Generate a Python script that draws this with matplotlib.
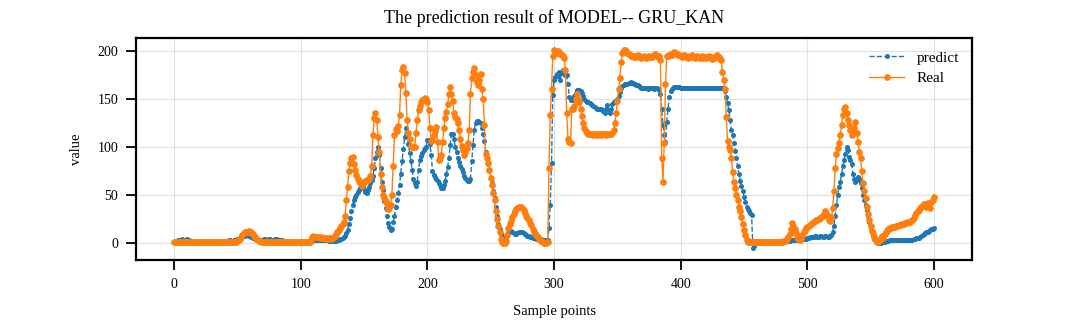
import numpy as np
import matplotlib
matplotlib.use('Agg')
import matplotlib.pyplot as plt

# Série real (Real) e previsão do modelo (predict), uma amostra por ponto
real = [
    1, 1, 1, 1, 1, 1, 1, 1, 1, 1,
    1, 1, 1, 1, 1, 1, 1, 1, 1, 1,
    1, 1, 1, 1, 1, 1, 1, 1, 1, 1,
    1, 1, 1, 1, 1, 1, 1, 1, 1, 1,
    1, 1, 1, 1, 1, 1, 1, 1, 1, 1,
    2, 3, 4, 6, 8, 10, 11, 12, 12, 13,
    12, 11, 9, 7, 6, 4, 3, 2, 2, 1,
    1, 1, 1, 1, 1, 1, 1, 1, 1, 1,
    1, 1, 1, 1, 1, 1, 1, 1, 1, 1,
    1, 1, 1, 1, 1, 1, 1, 1, 1, 1,
    1, 1, 1, 1, 1, 1, 1, 1, 3, 6,
    7, 6, 6, 6, 6, 5, 6, 5, 5, 5,
    5, 4, 5, 5, 4, 5, 6, 7, 9, 11,
    14, 16, 18, 20, 22, 28, 45, 58, 75, 83,
    88, 90, 82, 76, 71, 67, 65, 62, 59, 62,
    64, 65, 66, 66, 67, 70, 80, 112, 130, 135,
    128, 110, 95, 72, 58, 50, 47, 44, 41, 35,
    36, 40, 50, 80, 112, 119, 117, 122, 133, 165,
    180, 183, 177, 156, 128, 115, 108, 101, 100, 100,
    100, 115, 128, 138, 143, 147, 149, 150, 151, 150,
    147, 138, 120, 106, 107, 112, 117, 121, 105, 86,
    88, 92, 105, 120, 130, 136, 145, 155, 162, 155,
    148, 135, 131, 129, 125, 118, 108, 101, 97, 92,
    95, 99, 104, 118, 155, 172, 178, 182, 175, 168,
    164, 170, 176, 160, 150, 123, 93, 88, 83, 76,
    68, 60, 52, 45, 33, 25, 18, 11, 4, 1,
    0, 0, 2, 8, 16, 20, 23, 27, 30, 33,
    35, 36, 37, 38, 38, 36, 34, 31, 28, 26,
    24, 21, 19, 15, 12, 10, 8, 6, 4, 3,
    2, 1, 0, 0, 0, 1, 78, 133, 160, 195,
    201, 200, 198, 200, 199, 197, 196, 195, 193, 180,
    135, 108, 105, 104, 140, 140, 143, 150, 155, 150,
    147, 140, 132, 125, 120, 117, 115, 114, 113, 113,
    113, 112, 113, 113, 112, 113, 113, 112, 113, 113,
    113, 112, 113, 113, 114, 114, 115, 118, 125, 135,
    148, 160, 172, 188, 198, 201, 201, 200, 198, 197,
    196, 195, 195, 194, 195, 194, 196, 195, 194, 193,
    194, 195, 194, 193, 194, 195, 194, 194, 195, 196,
    197, 195, 194, 195, 190, 88, 64, 104, 166, 195,
    195, 196, 197, 196, 197, 199, 198, 197, 196, 196,
    195, 194, 195, 196, 194, 195, 193, 194, 195, 196,
    194, 193, 194, 195, 194, 193, 194, 195, 193, 194,
    193, 194, 195, 194, 193, 192, 193, 194, 195, 196,
    194, 192, 190, 178, 170, 160, 131, 106, 100, 97,
    88, 74, 64, 57, 50, 45, 38, 33, 27, 20,
    14, 8, 3, 1, 1, 1, 1, 1, 1, 1,
    1, 1, 1, 1, 1, 1, 1, 1, 1, 1,
    1, 1, 1, 1, 1, 1, 1, 1, 1, 1,
    1, 2, 2, 3, 4, 6, 9, 15, 21, 18,
    15, 10, 6, 4, 3, 5, 8, 11, 14, 16,
    17, 18, 19, 20, 21, 22, 23, 24, 24, 25,
    26, 27, 28, 30, 33, 31, 28, 24, 23, 27,
    36, 54, 78, 93, 99, 104, 112, 123, 133, 140,
    142, 135, 128, 123, 118, 112, 115, 120, 126, 115,
    105, 95, 88, 75, 62, 54, 47, 38, 30, 24,
    18, 13, 10, 6, 3, 1, 1, 3, 5, 7,
    5, 9, 12, 13, 15, 16, 16, 17, 17, 17,
    18, 18, 19, 19, 19, 20, 20, 21, 21, 22,
    22, 22, 23, 24, 26, 29, 31, 33, 34, 36,
    38, 40, 41, 40, 38, 42, 38, 36, 43, 45,
    48,
]

predict = [
    1, 1, 2, 3, 3, 3, 4, 3, 3, 3,
    4, 3, 3, 2, 2, 2, 1, 1, 1, 1,
    1, 1, 1, 1, 1, 1, 1, 1, 1, 1,
    1, 1, 1, 1, 1, 1, 1, 1, 1, 1,
    1, 2, 2, 3, 3, 2, 2, 3, 3, 3,
    4, 4, 5, 5, 6, 7, 7, 8, 8, 7,
    7, 6, 5, 5, 4, 4, 3, 3, 3, 3,
    3, 4, 4, 3, 3, 4, 4, 3, 3, 3,
    4, 4, 3, 3, 3, 3, 2, 2, 2, 2,
    2, 2, 1, 1, 1, 1, 1, 1, 1, 1,
    1, 1, 1, 1, 1, 1, 1, 1, 2, 2,
    3, 3, 3, 3, 3, 3, 3, 3, 3, 3,
    3, 3, 2, 2, 2, 2, 2, 2, 2, 3,
    3, 4, 4, 5, 6, 7, 10, 14, 20, 26,
    33, 40, 45, 48, 50, 53, 55, 57, 59, 58,
    56, 53, 52, 55, 58, 62, 66, 70, 78, 88,
    95, 100, 92, 78, 64, 55, 44, 36, 28, 21,
    17, 14, 15, 22, 28, 38, 45, 52, 60, 72,
    85, 98, 110, 120, 113, 103, 94, 85, 76, 67,
    62, 59, 64, 76, 86, 91, 94, 97, 99, 100,
    107, 107, 103, 92, 75, 71, 69, 67, 65, 62,
    60, 57, 57, 60, 65, 72, 79, 88, 102, 114,
    114, 108, 100, 95, 88, 84, 80, 77, 74, 70,
    68, 66, 65, 65, 67, 85, 102, 118, 125, 127,
    127, 126, 125, 120, 114, 106, 95, 88, 82, 76,
    68, 62, 54, 47, 37, 28, 20, 15, 9, 6,
    5, 4, 6, 9, 12, 13, 13, 11, 10, 9,
    9, 10, 11, 12, 12, 11, 10, 9, 8, 7,
    7, 6, 6, 5, 5, 5, 4, 4, 4, 4,
    4, 3, 3, 3, 3, 3, 16, 40, 83, 154,
    170, 173, 176, 174, 178, 170, 177, 180, 176, 175,
    175, 166, 152, 149, 149, 150, 153, 156, 159, 159,
    159, 158, 156, 153, 150, 148, 147, 147, 146, 145,
    144, 143, 142, 141, 140, 139, 140, 139, 138, 137,
    135, 140, 144, 138, 135, 140, 145, 147, 148, 147,
    150, 153, 157, 161, 163, 165, 166, 166, 166, 167,
    167, 168, 167, 166, 166, 165, 164, 163, 162, 161,
    161, 161, 161, 161, 160, 161, 161, 161, 161, 160,
    161, 161, 160, 159, 155, 140, 123, 112, 105, 126,
    140, 152, 158, 160, 161, 162, 162, 162, 162, 162,
    161, 161, 161, 161, 161, 161, 161, 161, 161, 161,
    161, 161, 161, 161, 161, 161, 161, 161, 161, 161,
    161, 161, 161, 161, 161, 161, 161, 161, 161, 161,
    161, 161, 161, 161, 160, 158, 152, 146, 138, 128,
    118, 112, 104, 96, 88, 80, 72, 65, 59, 54,
    48, 43, 38, 35, 33, 31, 29, -5, -3, -1,
    0, 0, 0, 0, 0, 1, 1, 1, 1, 1,
    1, 1, 1, 1, 1, 1, 1, 1, 2, 2,
    2, 2, 2, 2, 2, 2, 2, 3, 3, 3,
    3, 3, 3, 3, 3, 3, 4, 4, 4, 4,
    5, 5, 6, 6, 6, 6, 7, 7, 6, 6,
    7, 7, 6, 6, 7, 7, 6, 6, 7, 8,
    12, 18, 28, 40, 50, 58, 64, 72, 80, 86,
    93, 100, 97, 90, 86, 82, 72, 67, 64, 66,
    69, 67, 63, 57, 50, 45, 40, 34, 28, 22,
    16, 11, 7, 4, 2, 1, 0, 0, 0, 1,
    1, 1, 2, 2, 2, 3, 3, 3, 3, 3,
    3, 3, 3, 3, 3, 3, 3, 3, 3, 3,
    3, 3, 3, 3, 4, 4, 5, 5, 5, 6,
    7, 8, 9, 10, 11, 12, 13, 14, 15, 15,
    16,
]

model_name = 'GRU_KAN'
amostras = np.arange(len(real))

plt.rcParams['font.family'] = ['Liberation Serif', 'DejaVu Serif']
plt.rcParams['axes.linewidth'] = 1.6

fig = plt.figure(figsize=(10.8, 3.24), dpi=100)
ax = fig.add_axes([0.126, 0.198, 0.774, 0.685])

ax.plot(amostras, predict, linestyle='--', marker='o', markersize=2.6,
        linewidth=1.0, color='#1f77b4', label='predict')
ax.plot(amostras, real, linestyle='-', marker='o', markersize=3.8,
        linewidth=1.0, color='#ff7f0e', label='Real')

ax.set_title(f'The prediction result of MODEL-- {model_name}', fontsize=13, pad=11)
ax.set_xlabel('Sample points', fontsize=10.5, labelpad=10)
ax.set_ylabel('value', fontsize=10.5, labelpad=10)
ax.set_xlim(-30, 630)
ax.set_ylim(-17.5, 213.5)
ax.set_yticks([0, 50, 100, 150, 200])
ax.tick_params(direction='out', length=7, width=1.3, labelsize=10, pad=6)
ax.grid(True, color='#d9d9d9', linewidth=0.8, alpha=0.8)
ax.legend(loc='upper right', frameon=False, fontsize=11, handlelength=2.3,
          borderaxespad=0.45, labelspacing=0.45)

fig.savefig('out.png', dpi=100)
plt.close(fig)
